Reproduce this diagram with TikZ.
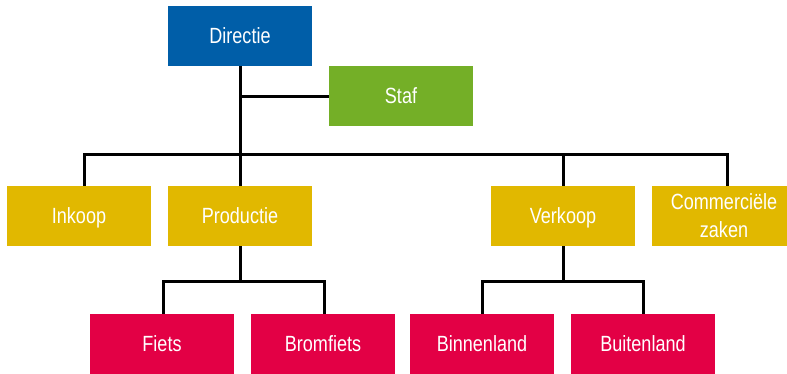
\documentclass[tikz,border=0pt]{standalone}
\usepackage{fontspec}
\setmainfont{Liberation Sans}[FakeStretch=0.82]
\usepackage{xcolor}
\definecolor{dirblue}{RGB}{0,94,168}
\definecolor{stafgreen}{RGB}{116,175,39}
\definecolor{afdyellow}{RGB}{225,184,0}
\definecolor{subred}{RGB}{227,0,69}

\begin{document}
\begin{tikzpicture}[x=1pt,y=-1pt]
\tikzstyle{box} =[rectangle, minimum width=144pt, minimum height=60pt, inner sep=0pt, text=white, align=center, font=\fontsize{22}{28}\selectfont]
\tikzstyle{line1} =[box, text height=16pt, text depth=1pt]
\tikzstyle{link} =[line width=3pt, black]

\clip (0,0) rectangle (787,373);

\node[line1, fill=dirblue](dir) at (240,36){Directie};
\node[line1, fill=stafgreen](staf) at (401,96){Staf};
\node[line1, fill=afdyellow](ink) at (79,216){Inkoop};
\node[line1, fill=afdyellow](prod) at (240,216){Productie};
\node[line1, fill=afdyellow](verk) at (563,216){Verkoop};
\node[box, fill=afdyellow](com) at (724,216){Commerciële\\zaken};
\node[line1, fill=subred](fiets) at (162,344){Fiets};
\node[line1, fill=subred](brom) at (323,344){Bromfiets};
\node[line1, fill=subred](binn) at (482,344){Binnenland};
\node[line1, fill=subred](buit) at (643,344){Buitenland};

\coordinate (bus) at (240,154);
\coordinate (pj) at (240,281);
\coordinate (vj) at (563,281);

\draw[link] (dir.south) -- (prod.north);
\draw[link] (dir.south |- staf.west) -- (staf.west);
\draw[link] ([xshift=5pt]ink.north) |- (bus) -| ([xshift=3pt]com.north);
\draw[link] (verk.north) -- (verk.north |- bus);

\draw[link] (prod.south) -- (pj);
\draw[link] ([xshift=1pt]fiets.north) |- (pj) -| ([xshift=1pt]brom.north);
\draw[link] (verk.south) -- (vj);
\draw[link] (binn.north) |- (vj) -| (buit.north);
\end{tikzpicture}
\end{document}
